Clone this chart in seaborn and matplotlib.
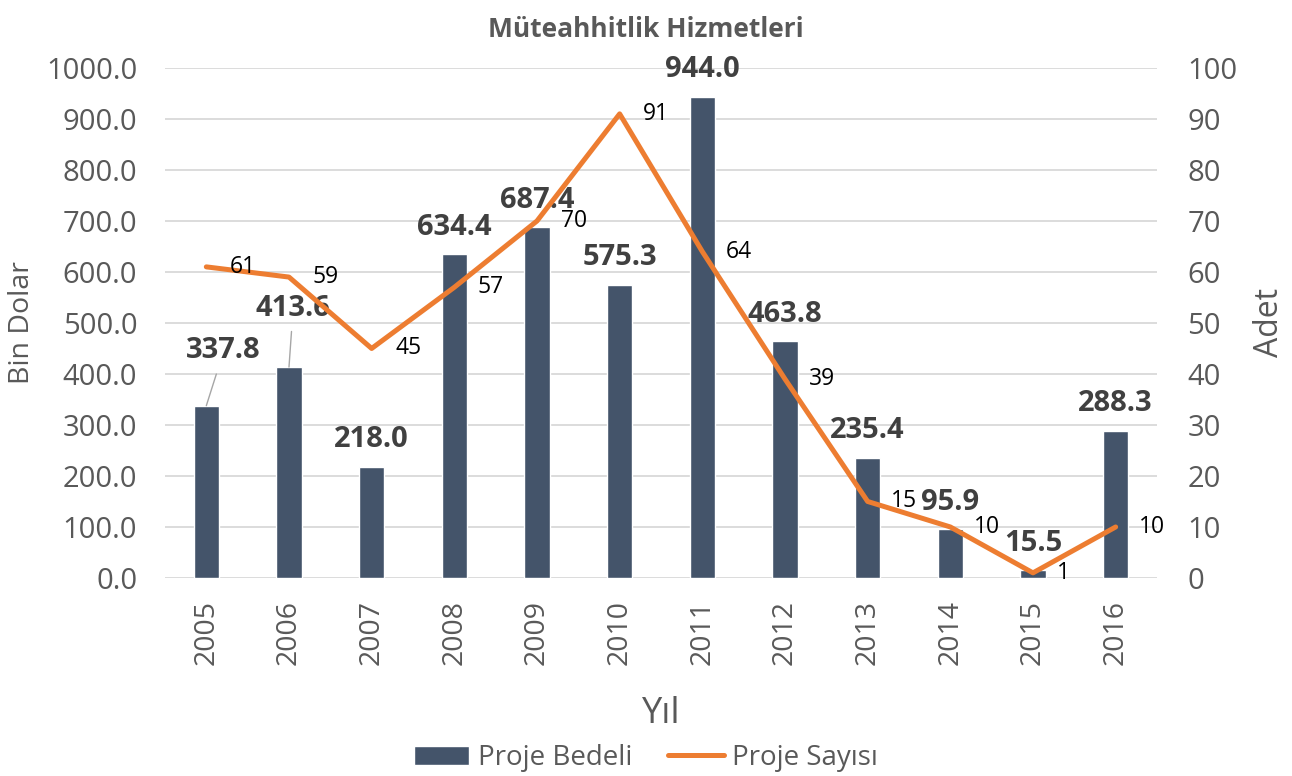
import numpy as np
import pandas as pd
import matplotlib
matplotlib.use("Agg")
import matplotlib.pyplot as plt
import seaborn as sns

# Chart data
years = ["2005", "2006", "2007", "2008", "2009", "2010",
         "2011", "2012", "2013", "2014", "2015", "2016"]
proje_bedeli = [337.8, 413.6, 218.0, 634.4, 687.4, 575.3,
                944.0, 463.8, 235.4, 95.9, 15.5, 288.3]
proje_sayisi = [61, 59, 45, 57, 70, 91, 64, 39, 15, 10, 1, 10]

df = pd.DataFrame({"Yil": years, "Bedel": proje_bedeli, "Sayi": proje_sayisi})

bar_color = "#44546A"
line_color = "#ED7D31"
text_gray = "#595959"

sns.set_style("white")
plt.rcParams["font.family"] = ["Open Sans", "DejaVu Sans"]

fig = plt.figure(figsize=(12.92, 7.76), dpi=100)
ax = fig.add_axes([0.1277, 0.2552, 0.7678, 0.6572])

# Bars on the left axis
sns.barplot(data=df, x="Yil", y="Bedel", color=bar_color, width=0.31,
            saturation=1, label="Proje Bedeli", ax=ax)
ax.set_ylim(0, 1000)
ax.set_xlim(-0.5, len(years) - 0.5)
ax.set_yticks(np.arange(0, 1001, 100))
ax.set_yticklabels([f"{v:.1f}" for v in np.arange(0, 1001, 100)])
ax.yaxis.grid(True, color="#D9D9D9", lw=1.3)
ax.set_axisbelow(True)
ax.tick_params(axis="y", length=0, pad=20, labelsize=21, labelcolor=text_gray)
ax.tick_params(axis="x", length=0, pad=16, labelsize=20.5, labelcolor=text_gray,
               labelrotation=90)
ax.set_xlabel("Yıl", fontsize=26, color=text_gray, labelpad=22)
ax.set_ylabel("Bin Dolar", fontsize=20.5, color=text_gray, labelpad=7)

# Line on the right axis
ax2 = ax.twinx()
sns.lineplot(x=np.arange(len(years)), y=df["Sayi"], color=line_color, lw=3.6,
             label="Proje Sayısı", ax=ax2)
if ax2.get_legend() is not None:
    ax2.get_legend().remove()
ax2.set_ylim(0, 100)
ax2.set_yticks(np.arange(0, 101, 10))
ax2.tick_params(axis="y", length=0, pad=22, labelsize=21, labelcolor=text_gray)
ax2.set_ylabel("Adet", fontsize=23, color=text_gray, labelpad=11)

for a in (ax, ax2):
    for s in a.spines.values():
        s.set_visible(False)

# Bar value labels (2005 and 2006 sit away from the bar with a leader line)
moved = {0: (12.5, 34), 1: (3, 37)}
for i, v in enumerate(proje_bedeli):
    if i in moved:
        ax.annotate(f"{v:.1f}", (i, v), xytext=moved[i], textcoords="offset points",
                    ha="center", va="baseline", fontsize=21, fontweight="bold",
                    color="#404040",
                    arrowprops=dict(arrowstyle="-", color="#A6A6A6", lw=1,
                                    shrinkA=4, shrinkB=0))
    else:
        ax.annotate(f"{v:.1f}", (i, v), xytext=(0, 14), textcoords="offset points",
                    ha="center", va="baseline", fontsize=21, fontweight="bold",
                    color="#404040")

# Line value labels
for i, v in enumerate(proje_sayisi):
    ax2.annotate(str(v), (i, v), xytext=(17, 0), textcoords="offset points",
                 ha="left", va="center", fontsize=16.5, color="black")

# Title centred on the figure rather than the axes
ax.set_title("Müteahhitlik Hizmetleri", fontsize=19, fontweight="bold",
             color=text_gray, pad=22, x=0.485)

# Legend at the bottom
h1, l1 = ax.get_legend_handles_labels()
h2, l2 = ax2.get_legend_handles_labels()
if ax.get_legend() is not None:
    ax.get_legend().remove()
fig.legend(h1 + h2, l1 + l2, loc="lower center", bbox_to_anchor=(0.5, -0.027),
           ncol=2, frameon=False, fontsize=20, labelcolor=text_gray,
           handlelength=2.0, handletextpad=0.3, columnspacing=1.3)

fig.savefig("out.png", dpi=100)
